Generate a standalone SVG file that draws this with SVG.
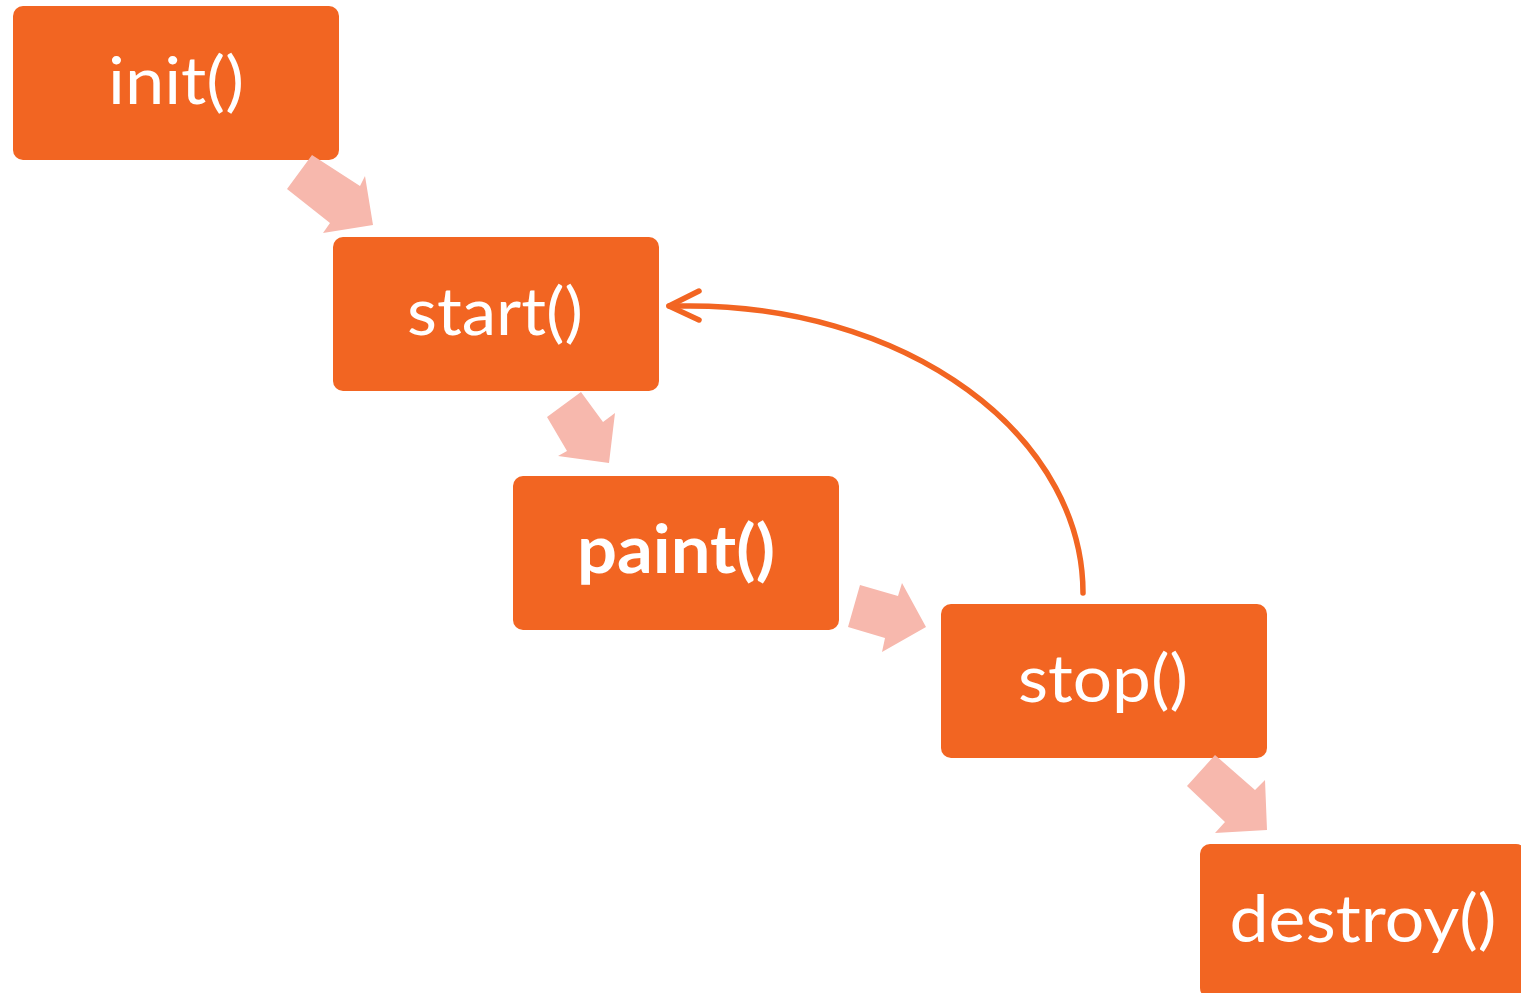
<svg xmlns="http://www.w3.org/2000/svg" width="1521" height="993" viewBox="0 0 1521 993">
<style>
.box{fill:#F26522;}
.lbl{fill:#ffffff;font-family:Lato,"Open Sans","Liberation Sans",sans-serif;font-size:66px;text-anchor:middle;}
.b{font-weight:bold;}
.fat{fill:#F7B8AD;}
.loop{fill:none;stroke:#F26522;stroke-width:5.5;stroke-linecap:round;stroke-linejoin:round;}
</style>
<rect width="1521" height="993" fill="#ffffff"/>
<g id="init"><rect class="box" x="13" y="6" width="326" height="154" rx="10"/><text class="lbl" x="176" y="104" textLength="136" lengthAdjust="spacingAndGlyphs">init()</text></g>
<g id="start"><rect class="box" x="333" y="237" width="326" height="154" rx="10"/><text class="lbl" x="495" y="335" textLength="176" lengthAdjust="spacingAndGlyphs">start()</text></g>
<g id="paint"><rect class="box" x="513" y="476" width="326" height="154" rx="10"/><text class="lbl b" x="676" y="573" textLength="198" lengthAdjust="spacingAndGlyphs">paint()</text></g>
<g id="stop"><rect class="box" x="941" y="604" width="326" height="154" rx="10"/><text class="lbl" x="1103" y="702" textLength="170" lengthAdjust="spacingAndGlyphs">stop()</text></g>
<g id="destroy"><rect class="box" x="1200" y="844" width="326" height="154" rx="10"/><text class="lbl" x="1363" y="942" textLength="267" lengthAdjust="spacingAndGlyphs">destroy()</text></g>
<g id="connectors">
<polygon class="fat" points="312,155 360,186 365,176 373,225 323,233 330,223 287,189"/>
<polygon class="fat" points="581,392 603,422 615,413 609,463 558,456 567,451 547,417"/>
<polygon class="fat" points="860,585 898,596 902,583 926,627 882,652 885,638 848,627"/>
<polygon class="fat" points="1215,755 1255,790 1265,780 1267,830 1215,833 1225,822 1187,786"/>
<path class="loop" d="M1083,593 A393,287 0 0 0 690,306 L669,306"/>
<polyline class="loop" points="699,291 669,306 699,320"/>
</g>
</svg>
